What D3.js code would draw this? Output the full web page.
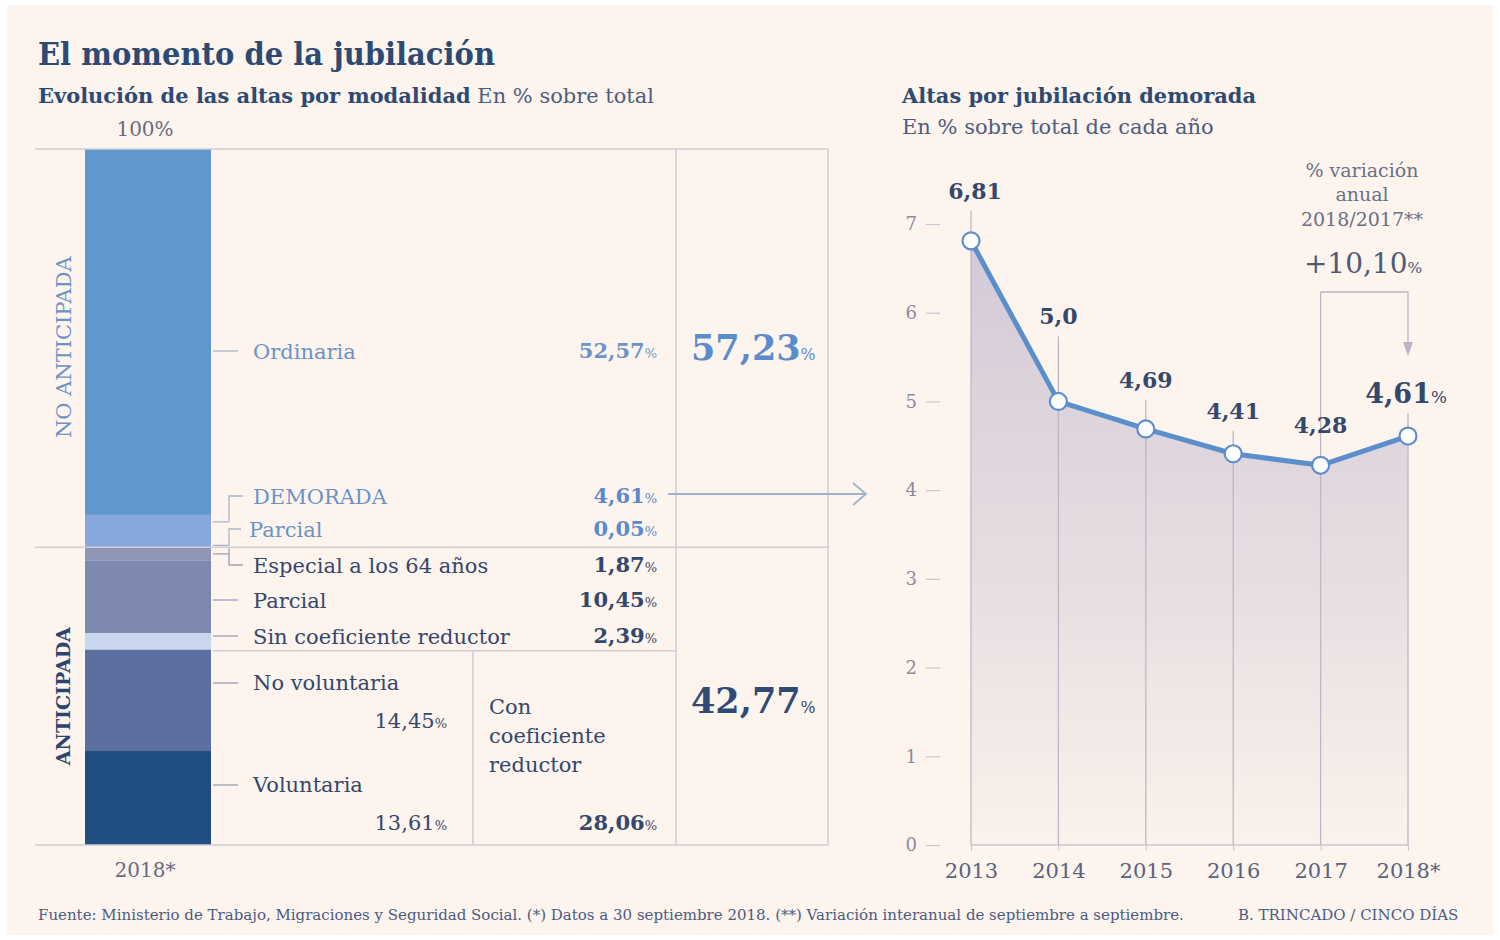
<!DOCTYPE html>
<html lang="es">
<head>
<meta charset="UTF-8">
<title>El momento de la jubilación</title>
<script src="https://d3js.org/d3.v7.min.js"></script>
<style>
  body { margin: 0; background: #ffffff; }
  svg text { font-family: 'DejaVu Serif', 'Liberation Serif', serif; }
</style>
</head>
<body>
<div id="chart"></div>
<script>
// ---- data ----
const segNames = ["Ordinaria", "DEMORADA", "Parcial", "Especial a los 64 años", "Parcial", "Sin coeficiente reductor", "No voluntaria", "Voluntaria"];
const segValues = [52.57, 4.61, 0.05, 1.87, 10.45, 2.39, 14.45, 13.61];
const segLabels = ["52,57", "4,61", "0,05", "1,87", "10,45", "2,39", "14,45", "13,61"];
const groupNames = ["NO ANTICIPADA", "ANTICIPADA"];
const groupTotals = ["57,23", "42,77"];
const reductorLines = ["Con", "coeficiente", "reductor"];
const reductorTotal = "28,06";
const barYear = "2018*";

const years = ["2013", "2014", "2015", "2016", "2017", "2018*"];
const demorada = [6.81, 5.0, 4.69, 4.41, 4.28, 4.61];
const demoradaLabels = ["6,81", "5,0", "4,69", "4,41", "4,28", "4,61"];
const yTicks = [0, 1, 2, 3, 4, 5, 6, 7];
const variationNote = ["% variación", "anual", "2018/2017**"];
const variation = "+10,10";

// ---- styles ----
const segColors = ["#6097cf", "#86a8dc", "#86a8dc", "#8f95b6", "#7e89b0", "#c9d7ee", "#5d6fa0", "#214e80"];
const lightBlue = "#6b93c6";
const dark = "#34476c";
const grid = "#cfccd6";
const W = 1500, H = 940;

const svg = d3.select("#chart").append("svg").attr("width", W).attr("height", H);
svg.append("rect").attr("x", 7).attr("y", 5).attr("width", 1486).attr("height", 930).attr("fill", "#fdf4ee");

function fit(sel, w) {
  sel.each(function () {
    if (this.getComputedTextLength() > w)
      d3.select(this).attr("textLength", w).attr("lengthAdjust", "spacingAndGlyphs");
  });
}
function txt(x, y, s, size, color, weight, anchor) {
  return svg.append("text").attr("x", x).attr("y", y).attr("dy", "0.36em")
    .attr("font-size", size).attr("fill", color).attr("font-weight", weight || "normal")
    .attr("text-anchor", anchor || "start").text(s);
}
function pct(x, y, num, size, color, weight, anchor, ratio) {
  const t = svg.append("text").attr("x", x).attr("y", y).attr("dy", "0.36em")
    .attr("font-size", size).attr("fill", color).attr("font-weight", weight || "normal")
    .attr("text-anchor", anchor || "start");
  t.append("tspan").text(num);
  t.append("tspan").attr("font-size", size * (ratio || 0.62)).attr("font-weight", "normal").text("%");
  return t;
}

// ---- titles ----
fit(txt(38, 54, "El momento de la jubilación", 31, "#2c4a72", "bold"), 457);
const sub = svg.append("text").attr("x", 38).attr("y", 95).attr("dy", "0.36em").attr("font-size", 21).attr("fill", "#2c4a72");
sub.append("tspan").attr("font-weight", "bold").text("Evolución de las altas por modalidad");
sub.append("tspan").attr("fill", "#4d5d80").text(" En % sobre total");
fit(sub, 616);
fit(txt(902, 95, "Altas por jubilación demorada", 21, "#2c4a72", "bold"), 354);
fit(txt(902, 126, "En % sobre total de cada año", 21, "#4d5d80"), 319);

// ---- left: stacked bar ----
const yBar = d3.scaleLinear().domain([0, 100]).range([149, 845]);
const cum = d3.cumsum(segValues);
const segs = segValues.map((v, i) => ({ name: segNames[i], v, y0: cum[i] - v, y1: cum[i], i }));
const barX = 85, barW = 126;

svg.append("g").selectAll("rect").data(segs).join("rect")
  .attr("x", barX).attr("width", barW)
  .attr("y", d => yBar(d.y0)).attr("height", d => Math.max(0, yBar(d.y1) - yBar(d.y0)))
  .attr("fill", (d, i) => segColors[i]);

// frame lines
const gl = svg.append("g").attr("stroke", grid).attr("stroke-width", 1.5).attr("fill", "none");
const split = cum[2];
[[35, yBar(0), 828, yBar(0)], [35, yBar(split), 828, yBar(split)], [35, yBar(100), 828, yBar(100)],
 [676, yBar(0), 676, yBar(100)], [828, yBar(0), 828, yBar(100)],
 [213, yBar(cum[5]) + 1, 676, yBar(cum[5]) + 1], [473, yBar(cum[5]) + 1, 473, yBar(100)]]
  .forEach(p => gl.append("line").attr("x1", p[0]).attr("y1", p[1]).attr("x2", p[2]).attr("y2", p[3]));

txt(145, 129, "100%", 20, "#676c80", "normal", "middle");
txt(145, 870, barYear, 20, "#676c80", "normal", "middle");

// group labels
svg.append("text").attr("transform", `translate(63,${(yBar(0) + yBar(split)) / 2 - 1}) rotate(-90)`)
  .attr("dy", "0.36em").attr("text-anchor", "middle").attr("font-size", 21).attr("fill", lightBlue)
  .text(groupNames[0]);
svg.append("text").attr("transform", `translate(63,${(yBar(split) + yBar(100)) / 2}) rotate(-90)`)
  .attr("dy", "0.36em").attr("text-anchor", "middle").attr("font-size", 19).attr("font-weight", "bold")
  .attr("fill", "#2a4670").text(groupNames[1]);

// labels and leaders (layout)
const labelY = [351, 496, 529, 565, 600, 636, 682, 784];
const labelX = [253, 253, 249, 253, 253, 253, 253, 253];
const leaders = svg.append("g").attr("fill", "none").attr("stroke-width", 1.3);
const leaderPaths = [
  "M213,351H238",
  `M213,${yBar(cum[0]) + 7}H229V${labelY[1]}H243`,
  `M213,${yBar(cum[2]) - 2}H229V${labelY[2]}H241`,
  `M213,${(yBar(cum[2]) + yBar(cum[3])) / 2}H229M229,${yBar(cum[2]) + 1}V${labelY[3]}H243`,
  "M213,600H238", "M213,636H238", "M213,683H238", "M213,785H238"
];
segs.forEach((d, i) => {
  leaders.append("path").attr("stroke", i < 3 ? "#a7b6cc" : "#9aa0b4").attr("d", leaderPaths[i]);
  const c = i < 3 ? lightBlue : dark;
  txt(labelX[i], labelY[i], d.name, 21, c);
  if (i < 6) pct(657, labelY[i] - 1, segLabels[i], 21, i < 3 ? (i === 0 ? lightBlue : "#5b8acb") : dark, "bold", "end");
  else pct(447, labelY[i] + 38, segLabels[i], 21, dark, "normal", "end");
});

reductorLines.forEach((s, k) => txt(489, 706 + k * 29, s, 21, dark));
pct(657, 822, reductorTotal, 21, dark, "bold", "end");
pct(691, 347, groupTotals[0], 35, "#5b8ccb", "bold", "start", 0.45);
pct(691, 700, groupTotals[1], 35, "#2f4a74", "bold", "start", 0.45);

// connecting arrow
svg.append("path").attr("fill", "none").attr("stroke", "#9fb1cf").attr("stroke-width", 1.8)
  .attr("d", "M668,494H866M853,483L866,494L853,505");

// ---- right: line chart ----
const x = d3.scalePoint().domain(years).range([971, 1408]);
const y = d3.scaleLinear().domain([0, 7]).range([845, 224]);

const defs = svg.append("defs");
const grad = defs.append("linearGradient").attr("id", "fade").attr("x1", 0).attr("x2", 0).attr("y1", 0).attr("y2", 1);
grad.append("stop").attr("offset", "0%").attr("stop-color", "#d3cad8");
grad.append("stop").attr("offset", "55%").attr("stop-color", "#e7dde1");
grad.append("stop").attr("offset", "100%").attr("stop-color", "#fbf2ec");

const pts = years.map((yr, i) => ({ yr, v: demorada[i], lab: demoradaLabels[i] }));
svg.append("path").datum(pts).attr("fill", "url(#fade)")
  .attr("d", d3.area().x(d => x(d.yr)).y0(y(0)).y1(d => y(d.v)));

// y axis
const yAx = svg.append("g").attr("transform", "translate(940,0)")
  .call(d3.axisLeft(y).tickValues(yTicks).tickSize(14).tickPadding(9).tickFormat(d3.format("d")));
yAx.select(".domain").remove();
yAx.selectAll("line").attr("stroke", "#c9c6d0").attr("stroke-width", 1.2);
yAx.selectAll("text").attr("font-size", 18).attr("fill", "#8a8a9c")
  .attr("font-family", "'DejaVu Serif', serif");

// x axis
const xAx = svg.append("g").attr("transform", `translate(0,${y(0)})`)
  .call(d3.axisBottom(x).tickSize(6).tickPadding(12));
xAx.select(".domain").attr("stroke", "#c9c6d0").attr("stroke-width", 1.5).attr("d", `M971,0H1408`);
xAx.selectAll("line").attr("stroke", "#c9c6d0");
xAx.selectAll("text").attr("font-size", 21).attr("fill", "#59637f")
  .attr("font-family", "'DejaVu Serif', serif");

// layout: label lift above each point
const lift = [50, 85, 49, 43, 40, 43];
const vlines = svg.append("g").attr("stroke", "#bdb8c8").attr("stroke-width", 1.3);
pts.forEach((d, i) => {
  const top = i === 4 ? 292 : y(d.v) - lift[i] + 20;
  vlines.append("line").attr("x1", x(d.yr)).attr("x2", x(d.yr)).attr("y1", top).attr("y2", y(0));
});

// bracket to 2018
svg.append("path").attr("fill", "none").attr("stroke", "#b9b5c6").attr("stroke-width", 1.3)
  .attr("d", `M${x(years[4])},292H${x(years[5])}V352`);
svg.append("path").attr("fill", "#b9b5c6")
  .attr("d", `M${x(years[5]) - 5},342L${x(years[5])},356L${x(years[5]) + 5},342Z`);

svg.append("path").datum(pts).attr("fill", "none").attr("stroke", "#5b8fcb").attr("stroke-width", 5)
  .attr("stroke-linejoin", "round").attr("d", d3.line().x(d => x(d.yr)).y(d => y(d.v)));
svg.append("g").selectAll("circle").data(pts).join("circle")
  .attr("cx", d => x(d.yr)).attr("cy", d => y(d.v)).attr("r", 8.5)
  .attr("fill", "#ffffff").attr("stroke", "#5b8fcb").attr("stroke-width", 2.2);

pts.forEach((d, i) => {
  if (i === 5) pct(x(d.yr) - 2, y(d.v) - lift[i], d.lab, 27, "#34476c", "bold", "middle");
  else txt(x(d.yr) + (i === 0 ? 4 : 0), y(d.v) - lift[i], d.lab, 22, "#34476c", "bold", "middle");
});

variationNote.forEach((s, k) => txt(1362, 170 + k * 24.5, s, 19, "#6a7085", "normal", "middle"));
pct(1363, 263, variation, 28, "#4f5a78", "normal", "middle", 0.55);

// ---- footer ----
fit(txt(38, 915, "Fuente: Ministerio de Trabajo, Migraciones y Seguridad Social. (*) Datos a 30 septiembre 2018. (**) Variación interanual de septiembre a septiembre.", 15, "#4b5b82"), 1164);
fit(txt(1238, 915, "B. TRINCADO / CINCO DÍAS", 15, "#4b5b82"), 222);
</script>
</body>
</html>
